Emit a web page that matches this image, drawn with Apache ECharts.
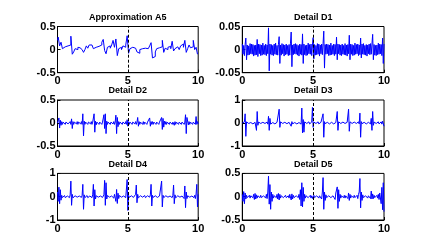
<!DOCTYPE html>
<html><head><meta charset="utf-8">
<script src="https://cdn.jsdelivr.net/npm/echarts@6/dist/echarts.min.js"></script>
<style>html,body{margin:0;padding:0;background:#fff}#c{width:427px;height:249px}</style>
</head><body><div id="c"></div>
<script>
// ---------- data ----------
const titles = ['Approximation A5','Detail D1','Detail D2','Detail D3','Detail D4','Detail D5'];
const xTickVals = [0, 5, 10];
const xTickLabels = ['0', '5', '10'];
const yTickVals_A5 = [-0.5, 0, 0.5];   const yTickLabels_A5 = ['-0.5', '0', '0.5'];
const yTickVals_D1 = [-0.05, 0, 0.05]; const yTickLabels_D1 = ['-0.05', '0', '0.05'];
const yTickVals_D2 = [-0.5, 0, 0.5];   const yTickLabels_D2 = ['-0.5', '0', '0.5'];
const yTickVals_D3 = [-1, 0, 1];       const yTickLabels_D3 = ['-1', '0', '1'];
const yTickVals_D4 = [-1, 0, 1];       const yTickLabels_D4 = ['-1', '0', '1'];
const yTickVals_D5 = [-0.5, 0, 0.5];   const yTickLabels_D5 = ['-0.5', '0', '0.5'];

// samples evenly spaced over 0..10
const A5 = [
 .2,.27,.08,.16,.02,.06,.03,.08,.05,.1,
 .29,-.1,-.05,.02,0,.05,.04,0,.02,-.06,
 0,.08,.03,.1,.1,.13,.02,.05,.03,.07,
 .04,.1,.16,.22,-.02,-.09,.05,.08,.03,.1,
 .2,.05,.23,-.13,.02,.05,0,.08,.05,.1,
 .3,-.08,.02,.05,.08,.03,.06,-.05,-.08,0,
 .02,-.02,.03,0,.02,.05,.08,.15,-.18,-.15,
 -.05,.02,.04,0,.06,.2,-.06,.03,0,.05,
 .07,.02,.18,-.03,.02,.06,.03,0,.08,.12,
 .05,.2,-.06,.02,.1,.04,.06,.2,0,.05,
 -.1
];
const D1 = [
 .012,-.01,.009,-.013,.011,.025,-.022,.01,-.012,.008,-.011,.013,-.009,.012,-.01,.011,-.014,.009,-.012,.01,
 -.011,.022,-.015,.012,-.009,.011,-.013,.01,-.012,.014,-.01,.009,-.011,.012,-.013,.01,-.009,.047,-.046,.012,
 -.01,.011,-.012,.009,-.013,.012,-.01,.014,-.011,.009,-.012,.011,.028,-.03,.01,-.012,.013,-.009,.011,-.014,
 .01,-.011,.012,-.01,.009,-.013,.011,-.012,.014,.038,-.037,.01,-.011,.012,-.009,.013,-.01,.011,-.012,.009,
 -.014,.012,-.01,.011,-.012,.034,-.03,.012,-.011,.009,-.013,.01,-.012,.014,-.009,.011,-.01,.012,-.013,.01,
 .026,-.02,.011,-.012,.009,-.011,.013,-.01,.012,-.014,.01,-.009,.012,-.011,.013,.04,-.04,.011,-.01,.012,
 -.009,.011,-.013,.01,-.012,.014,-.011,.009,-.01,.012,-.013,.011,-.01,.027,-.022,.012,-.009,.011,-.012,.01,
 -.013,.012,-.01,.009,-.011,.013,-.012,.01,-.014,.011,-.009,.031,-.022,.012,-.01,.011,-.013,.009,-.012,.014,
 -.01,.011,-.009,.012,-.013,.01,-.011,.025,-.018,.012,-.01,.013,-.011,.009,-.012,.011,-.014,.01,-.009,.012,
 -.011,.013,-.01,.012,.033,-.022,.011,-.012,.009,-.013,.01,-.011,.014,-.01,.012,-.009,.011,-.013,.025,-.03,
 .012
];
const D2 = [
 0,.02,.11,-.11,.06,-.05,.03,-.03,.02,-.02,.03,-.03,.02,-.02,.03,-.02,.02,-.02,.03,-.03,
 .09,-.12,.03,-.03,.02,-.02,.02,-.02,.03,-.03,.02,-.02,.02,-.02,.03,-.03,.2,-.28,.04,-.03,
 .02,-.02,.03,-.03,.02,-.02,.02,-.02,.03,-.03,.02,-.02,.2,-.2,.04,-.04,.02,-.02,.03,-.03,
 .02,-.02,.03,-.03,.02,-.02,.18,-.12,.2,-.23,.04,-.03,.02,-.02,.03,-.03,.02,-.02,.02,-.02,
 .03,-.03,.02,.17,-.23,.12,-.08,.03,-.03,.02,-.02,.03,-.03,.02,-.02,.02,-.02,.03,-.03,.07,
 -.07,.03,-.03,.02,-.02,.03,-.03,.02,-.02,.02,-.02,.03,-.03,.02,.12,-.07,.03,-.03,.02,-.02,
 .03,-.03,.03,-.03,.02,-.02,.03,-.03,.02,-.02,.02,.11,-.07,.03,-.03,.03,-.03,.02,-.02,.03,
 -.03,.02,-.02,.03,-.03,.02,-.02,.03,.12,-.14,.1,-.09,.04,-.03,.03,-.03,.02,-.02,.03,-.03,
 .02,-.02,.03,-.03,.02,.05,-.05,.03,-.03,.02,-.02,.03,-.03,.02,-.02,.03,-.03,.02,-.02,.03,
 -.03,.02,.18,-.23,.12,.1,-.04,.03,-.03,.02,-.02,.03,-.03,.02,-.02,.05,-.03,.14,-.03,.03,
 -.02
];
const D3 = [
 0,.03,-.03,.05,.4,-.58,.05,-.03,.03,-.02,.03,-.03,.02,-.03,.05,-.04,.03,-.02,.03,-.03,
 -.32,.5,-.1,.04,-.03,.03,-.02,.05,-.04,.03,-.03,.02,-.02,.03,-.03,.04,-.05,.29,-.32,.2,
 -.05,.03,-.03,.02,-.03,.05,-.04,.03,-.02,.03,-.03,.04,.6,-.19,.05,-.03,.03,-.02,.04,-.04,
 .03,-.03,.02,-.03,.05,-.04,.03,-.05,.1,-.14,.06,-.04,.03,-.03,.02,-.02,.04,-.04,.03,-.03,
 .02,-.03,.05,-.05,.65,-.43,.15,-.4,.05,-.03,.03,-.02,.03,-.03,.05,-.04,.03,-.02,.04,.68,
 -.19,.04,-.03,.03,-.02,.03,-.03,.05,-.04,.03,-.02,.03,-.03,.05,.4,-.62,.06,-.03,.03,-.02,
 .03,-.03,.04,-.04,.03,-.02,.03,-.03,.05,-.04,.03,-.03,.02,.04,.5,-.32,.05,-.03,.03,-.02,
 .03,-.03,.04,-.04,.03,-.02,.05,-.05,.03,-.03,.6,-.36,.05,-.03,.03,-.02,.03,-.03,.04,-.04,
 .03,-.02,.03,-.03,.05,-.04,.43,-.62,.06,-.03,.03,-.02,.03,-.03,.05,-.04,.03,-.02,.03,-.03,
 .04,-.04,.2,-.32,.5,-.1,.04,-.03,.03,-.02,.03,-.03,.05,-.04,.03,-.02,.05,-.05,.08,.12,
 -.14
];
const D4 = [
 .2,-.2,.41,-.3,.3,-.15,.06,-.04,.03,-.03,.05,-.04,.03,-.02,.03,-.03,.04,-.04,.08,.67,
 -.37,.1,-.05,.03,-.03,.04,-.04,.03,-.02,.05,-.04,.03,-.03,.02,-.03,.06,.53,-.54,.08,-.04,
 .03,-.03,.05,-.04,.03,-.02,.03,-.03,.04,-.04,.08,.53,-.4,.3,-.1,.04,-.03,.03,-.02,.05,
 -.04,.03,-.03,.02,-.03,.04,.08,.7,-.37,.6,-.1,.05,-.03,.03,-.02,.04,-.04,.03,-.03,.05,
 -.06,.1,.15,-.2,.31,-.29,.15,-.08,.05,-.03,.03,-.02,.04,-.04,.03,-.03,.05,-.04,.03,.74,
 -.59,.06,-.03,.03,-.02,.04,-.04,.03,-.03,.05,-.06,.1,.5,-.26,.1,-.05,.03,-.03,.04,-.04,
 .03,-.02,.03,-.03,.05,-.04,.03,-.03,.04,-.04,.03,-.02,.08,.53,-.4,.06,-.03,.03,-.02,.04,
 -.04,.03,-.03,.05,-.04,.03,-.02,.08,.67,-.44,.06,-.04,.03,-.03,.04,-.04,.03,-.02,.05,-.04,
 .03,-.03,.04,-.04,.06,.5,-.3,.08,-.05,.03,-.03,.04,-.04,.03,-.02,.05,-.04,.03,-.03,.06,
 -.08,.46,-.47,.2,-.08,.04,-.03,.03,-.02,.04,-.04,.03,-.03,.05,-.04,.06,-.08,.12,.53,-.44,
 .1
];
const D5 = [
 .05,-.1,.11,-.15,.08,-.05,.03,-.02,.02,-.015,.03,-.03,.02,-.02,.015,-.02,.05,-.06,.07,-.05,
 .04,-.03,.02,-.015,.02,-.02,.03,-.02,.015,-.02,.02,-.015,.03,-.03,.05,-.04,.1,.44,-.16,.26,
 -.27,.1,-.1,.05,-.03,.02,-.02,.015,-.02,.05,-.05,.07,-.07,.05,-.03,.02,-.015,.02,-.02,.015,
 -.02,.03,-.02,.02,-.015,.02,-.03,.05,.07,-.07,.06,-.05,.03,-.02,.015,-.02,.02,-.015,.03,-.02,
 .05,-.06,.15,-.2,.3,-.22,.2,-.1,.05,-.03,.02,-.015,.02,-.02,.015,-.02,.03,-.03,.02,.05,
 -.05,.03,-.02,.015,-.02,.02,-.015,.03,-.03,.02,-.02,.05,-.05,.1,.41,-.27,.1,-.08,.04,-.02,
 .02,-.015,.02,-.02,.03,-.02,.015,-.02,.02,-.015,.05,-.06,.08,.1,.21,-.25,.15,-.1,.05,-.03,
 .02,-.02,.015,-.02,.03,-.03,.02,-.015,.05,-.04,.08,-.08,.05,-.03,.02,-.015,.02,-.02,.03,-.02,
 .015,-.02,.03,-.04,.05,.1,.39,-.24,.1,-.08,.04,-.02,.02,-.015,.02,-.02,.03,-.03,.02,-.015,
 .03,-.04,.12,-.05,.06,-.04,.03,-.02,.02,-.015,.03,-.03,.05,-.06,.08,.1,-.15,.2,-.28,.3,
 -.32
];

// ---------- layout / styling ----------
const series_data = [A5, D1, D2, D3, D4, D5];
const yVals = [yTickVals_A5, yTickVals_D1, yTickVals_D2, yTickVals_D3, yTickVals_D4, yTickVals_D5];
const yLabs = [yTickLabels_A5, yTickLabels_D1, yTickLabels_D2, yTickLabels_D3, yTickLabels_D4, yTickLabels_D5];
const colLeft = [57.5, 242.3], colWidth = [140.7, 141.7];
const rowTop = [26.5, 100, 173.4], rowHeight = [46.2, 46, 46.6];
const titleY = [17.5, 91, 164.5];

const FONT = 'Liberation Sans, Arial, sans-serif';
function lab(vals, labs) {
  return function (v) {
    const k = vals.findIndex(t => Math.abs(t - v) < 1e-9);
    return k >= 0 ? labs[k] : '';
  };
}
const grid = [], xAxis = [], yAxis = [], series = [], title = [];
for (let i = 0; i < 6; i++) {
  const r = Math.floor(i / 2), c = i % 2;
  grid.push({ left: colLeft[c], top: rowTop[r], width: colWidth[c], height: rowHeight[r],
    show: true, borderColor: '#000', borderWidth: 1, backgroundColor: 'transparent',
    containLabel: false, outerBoundsMode: 'none' });
  title.push({ text: titles[i], left: colLeft[c] + colWidth[c] / 2, top: titleY[r], padding: 0,
    textAlign: 'center', textVerticalAlign: 'middle',
    textStyle: { fontFamily: FONT, fontWeight: 'bold', fontSize: 9, color: '#000' } });
  const yv = yVals[i];
  xAxis.push({ gridIndex: i, type: 'value', min: xTickVals[0], max: xTickVals[2], interval: xTickVals[1] - xTickVals[0],
    axisLine: { show: true, onZero: false, lineStyle: { color: '#000', width: 1 } },
    axisTick: { show: true, inside: true, length: 3, lineStyle: { color: '#000' } },
    splitLine: { show: false },
    axisLabel: { color: '#000', fontFamily: FONT, fontWeight: 'bold', fontSize: 11, margin: 3,
      showMinLabel: true, showMaxLabel: true, hideOverlap: false, formatter: lab(xTickVals, xTickLabels) } });
  yAxis.push({ gridIndex: i, type: 'value', min: yv[0], max: yv[2], interval: yv[1] - yv[0],
    axisLine: { show: true, onZero: false, lineStyle: { color: '#000', width: 1 } },
    axisTick: { show: true, inside: true, length: 3, lineStyle: { color: '#000' } },
    splitLine: { show: false },
    axisLabel: { color: '#000', fontFamily: FONT, fontWeight: 'bold', fontSize: 11, margin: 2,
      showMinLabel: true, showMaxLabel: true, hideOverlap: false, formatter: lab(yv, yLabs[i]) } });
  const arr = series_data[i];
  const step = 10 / (arr.length - 1);
  series.push({ type: 'line', xAxisIndex: i, yAxisIndex: i, showSymbol: false, symbol: 'none',
    step: i === 0 ? 'middle' : false,
    data: arr.map((v, k) => [k * step, v]),
    lineStyle: { color: '#0000ff', width: 1 }, itemStyle: { color: '#0000ff' },
    silent: true, clip: true,
    markLine: { silent: true, symbol: 'none', label: { show: false },
      lineStyle: { color: '#000', type: [3, 2], width: 1 }, emphasis: { disabled: true },
      data: [{ xAxis: xTickVals[1] }] } });
}
const chart = echarts.init(document.getElementById('c'), null, { renderer: 'canvas' });
chart.setOption({ animation: false, backgroundColor: '#fff', title, grid, xAxis, yAxis, series });
</script></body></html>
